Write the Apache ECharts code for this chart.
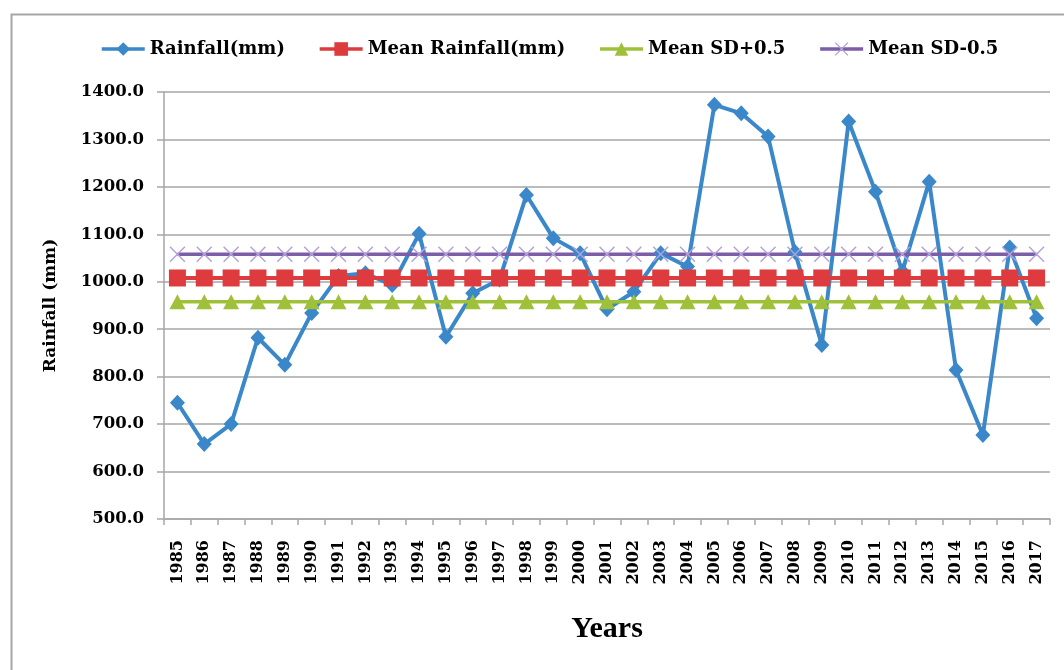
<!DOCTYPE html>
<html>
<head>
<meta charset="utf-8">
<script src="https://cdn.jsdelivr.net/npm/echarts@6/dist/echarts.min.js"></script>
<style>
html,body{margin:0;padding:0;background:#fff;}
#chart{width:1064px;height:670px;}
</style>
</head>
<body>
<div id="chart"></div>
<script>
const years = ['1985','1986','1987','1988','1989','1990','1991','1992','1993','1994','1995','1996','1997','1998','1999','2000','2001','2002','2003','2004','2005','2006','2007','2008','2009','2010','2011','2012','2013','2014','2015','2016','2017'];
const rainfall = [745,658,700,882,825,934,1012,1018,993,1101,884,976,1005,1183,1092,1060,942,979,1060,1032,1373,1355,1306,1063,867,1338,1190,1022,1211,814,677,1072,923];
const meanRainfall = 1008;
const meanSDplus = 958;
const meanSDminus = 1058;
const yTicks = {min:500, max:1400, interval:100};

const meanArr = years.map(() => meanRainfall);
const plusArr = years.map(() => meanSDplus);
const minusArr = years.map(() => meanSDminus);

const FONT = 'DejaVu Serif';
const xShape = 'path://M0,1.3L1.3,0L10,8.7L18.7,0L20,1.3L11.3,10L20,18.7L18.7,20L10,11.3L1.3,20L0,18.7L8.7,10Z';

const chart = echarts.init(document.getElementById('chart'), null, {renderer:'canvas'});
chart.setOption({
  animation: false,
  backgroundColor: '#fff',
  graphic: [{
    type: 'rect', left: 9, top: 12, shape: {width: 1100, height: 700},
    style: {fill: 'none', stroke: '#a6a6a6', lineWidth: 2}, silent: true, z: -1
  }],
  legend: {
    left: 95, top: 35,
    itemWidth: 43, itemHeight: 17, itemGap: 33,
    lineStyle: {width: 3.5},
    textStyle: {fontFamily: FONT, fontWeight: 'bold', fontSize: 18, color: '#000'},
    data: ['Rainfall(mm)','Mean Rainfall(mm)','Mean SD+0.5','Mean SD-0.5']
  },
  grid: {left: 164, right: 14, top: 92, bottom: 151, containLabel: false},
  xAxis: {
    type: 'category', data: years, boundaryGap: true,
    name: 'Years', nameLocation: 'middle', nameGap: 95,
    nameTextStyle: {fontFamily: 'Liberation Serif', fontWeight: 'bold', fontSize: 30, color: '#000'},
    axisLine: {lineStyle: {color: '#a6a6a6', width: 1.5}},
    axisTick: {show: true, length: 6, lineStyle: {color: '#a6a6a6', width: 1.5}},
    axisLabel: {rotate: 90, margin: 21, interval: 0, fontFamily: FONT, fontWeight: 'bold', fontSize: 16, color: '#000'}
  },
  yAxis: {
    type: 'value', min: yTicks.min, max: yTicks.max, interval: yTicks.interval,
    name: 'Rainfall (mm)', nameLocation: 'middle', nameGap: 105, nameRotate: 90,
    nameTextStyle: {fontFamily: FONT, fontWeight: 'bold', fontSize: 17, color: '#000'},
    axisLine: {show: true, lineStyle: {color: '#a6a6a6', width: 1.5}},
    axisTick: {show: true, length: 7, lineStyle: {color: '#a6a6a6', width: 1.5}},
    axisLabel: {margin: 20, fontFamily: FONT, fontWeight: 'bold', fontSize: 16.5, color: '#000', formatter: v => v.toFixed(1)},
    splitLine: {lineStyle: {color: '#a6a6a6', width: 1.5}}
  },
  series: [
    {name: 'Rainfall(mm)', type: 'line', data: rainfall, symbol: 'diamond', symbolSize: [15,16],
     lineStyle: {color: '#3a87c9', width: 4}, itemStyle: {color: '#3a87c9'}},
    {name: 'Mean Rainfall(mm)', type: 'line', data: meanArr, symbol: 'rect', symbolSize: 17,
     lineStyle: {color: '#de3b3e', width: 4}, itemStyle: {color: '#de3b3e'}},
    {name: 'Mean SD+0.5', type: 'line', data: plusArr, symbol: 'triangle', symbolSize: [16,15],
     lineStyle: {color: '#9fc13a', width: 3.5}, itemStyle: {color: '#9fc13a'}},
    {name: 'Mean SD-0.5', type: 'line', data: minusArr, symbol: xShape, symbolSize: 16,
     lineStyle: {color: '#7b5ea7', width: 3.5}, itemStyle: {color: '#b3a2d9'}}
  ]
});
</script>
</body>
</html>
